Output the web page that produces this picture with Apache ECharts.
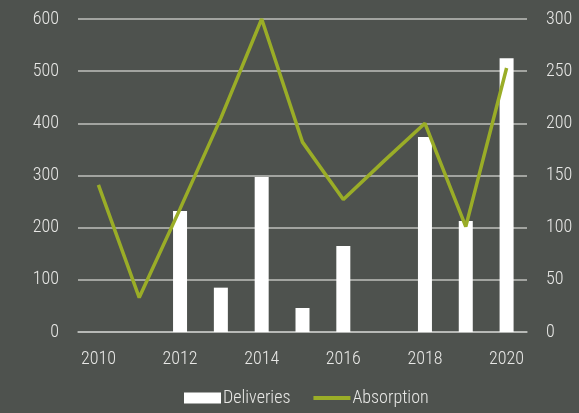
<!DOCTYPE html>
<html>
<head>
<meta charset="utf-8">
<script src="https://cdn.jsdelivr.net/npm/echarts@6/dist/echarts.min.js"></script>
<style>
html,body{margin:0;padding:0;background:#4e524e;}
#chart{width:579px;height:413px;}
</style>
</head>
<body>
<div id="chart"></div>
<script>
const years = ['2010','2011','2012','2013','2014','2015','2016','2017','2018','2019','2020'];
const deliveries = [0, 0, 232, 85, 297, 46, 165, 0, 374, 213, 525];
const absorption = [141, 33, 118, 205, 300, 182, 127, 164, 200, 101, 253];
const leftTicks = {min: 0, max: 600, interval: 100};
const rightTicks = {min: 0, max: 300, interval: 50};

const FONT = '"Roboto Condensed", "Liberation Sans Narrow", sans-serif';
const TXT = '#e8e8e6';
const GRID = '#bfc0bd';
const LINE = '#9aad27';

const chart = echarts.init(document.getElementById('chart'), null, {renderer: 'canvas'});
chart.setOption({
  backgroundColor: '#4e524e',
  animation: false,
  textStyle: {fontFamily: FONT},
  grid: {left: 78, right: 52, top: 19, bottom: 81, containLabel: false},
  legend: {
    top: 384,
    left: 179,
    itemWidth: 37,
    itemHeight: 11,
    itemGap: 21,
    textStyle: {color: TXT, fontSize: 18, fontWeight: 300, fontFamily: FONT, padding: [0, 0, 0, -3]},
    data: [
      {name: 'Deliveries', icon: 'rect'},
      {name: 'Absorption', itemStyle: {color: 'rgba(0,0,0,0)', borderWidth: 0}, lineStyle: {color: LINE, width: 4}}
    ]
  },
  xAxis: {
    type: 'category',
    data: years,
    boundaryGap: true,
    axisTick: {show: false},
    axisLine: {show: true, lineStyle: {color: GRID, width: 1.5}},
    axisLabel: {color: TXT, fontSize: 18, fontWeight: 300, fontFamily: FONT, interval: 1, margin: 18}
  },
  yAxis: [
    {
      type: 'value',
      min: leftTicks.min, max: leftTicks.max, interval: leftTicks.interval,
      axisLine: {show: false},
      axisTick: {show: false},
      axisLabel: {color: TXT, fontSize: 18, fontWeight: 300, fontFamily: FONT, margin: 19},
      splitLine: {show: true, lineStyle: {color: GRID, width: 1.5}}
    },
    {
      type: 'value',
      min: rightTicks.min, max: rightTicks.max, interval: rightTicks.interval,
      position: 'right',
      axisLine: {show: false},
      axisTick: {show: false},
      axisLabel: {color: TXT, fontSize: 18, fontWeight: 300, fontFamily: FONT, margin: 19},
      splitLine: {show: false}
    }
  ],
  series: [
    {
      name: 'Deliveries',
      type: 'bar',
      yAxisIndex: 0,
      data: deliveries,
      barWidth: 14,
      itemStyle: {color: '#ffffff'}
    },
    {
      name: 'Absorption',
      type: 'line',
      yAxisIndex: 1,
      data: absorption,
      symbol: 'none',
      lineStyle: {color: LINE, width: 3.5},
      itemStyle: {color: LINE}
    }
  ]
});
</script>
</body>
</html>
